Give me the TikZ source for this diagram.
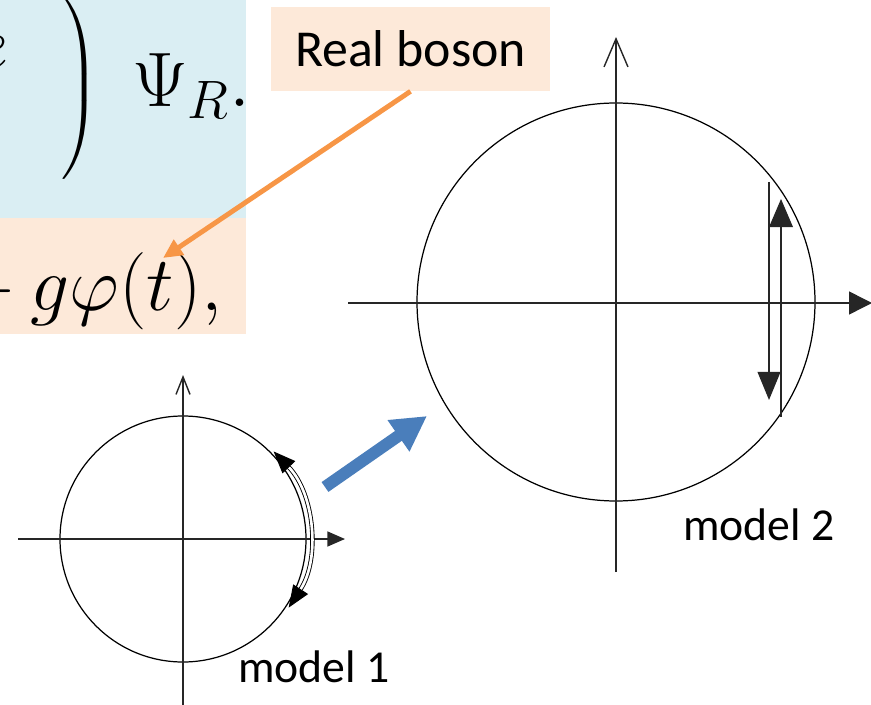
\RequirePackage{fix-cm}
\documentclass[tikz,border=0pt]{standalone}
\usepackage{amsmath}
\usepackage{fontspec}
\newfontfamily\calibri{Carlito}
\usetikzlibrary{arrows.meta,positioning}
\definecolor{eqblue}{HTML}{DAEEF3}
\definecolor{eqpeach}{HTML}{FDE9D9}
\definecolor{notearrow}{HTML}{F79646}
\definecolor{steparrow}{HTML}{4A7EBB}

\begin{document}
\begin{tikzpicture}[x=0.02cm, y=-0.02cm,
    eqbox/.style={anchor=base east, inner sep=0pt, font=\fontsize{44}{50}\selectfont},
    note/.style={fill=eqpeach, inner sep=0pt, minimum width=5.58cm, minimum height=1.68cm, font=\calibri\fontsize{29.5}{34}\selectfont},
    modellabel/.style={anchor=base west, inner sep=0pt, font=\calibri\fontsize{26}{30}\selectfont},
    axis/.style={line width=0.8pt, black!85},
    ring/.style={line width=0.7pt}
]
    \useasboundingbox (0,0) rectangle (871,705);
    \clip (0,0) rectangle (871,705);

    % equation boxes
    \fill[eqblue] (0,0) rectangle (246,218);
    \fill[eqpeach] (0,218) rectangle (246,334);
    \node[eqbox] (efrag) at (9,70) {$e$};
    \node[eqbox] (psi) at (251,107) {$\left.\vrule height 64pt depth 42pt width 0pt\right)\mskip4.5mu\Psi_R.$};
    \node[eqbox] (coupling) at (223,311) {${}+g\varphi(t),$};
    \coordinate (ttop) at (163,258);

    % label and pointer
    \node[note] (boson) at (410.5,49) {Real boson};
    \draw[notearrow, line width=2.8pt, -{Triangle[length=11pt,width=10pt]}] (boson.south) -- (ttop);

    % model 1
    \coordinate (o1) at (183,539);
    \draw[ring] (o1) circle (123);
    \draw[axis, -{Triangle[length=10pt,width=8.5pt]}] (18,539) -- (345,539);
    \draw[axis, -{Straight Barb[length=10pt,width=8pt]}] (183,705) -- (183,375);
    \draw[line width=0.5pt, double, double distance=1.5pt, {Triangle[length=12.5pt,width=10pt]}-{Triangle[length=12.5pt,width=10pt]}]
        (o1) ++(-44:126) arc[start angle=-44, end angle=33, radius=126];
    \node[modellabel] (m1) at (238,682) {model 1};

    % step to model 2
    \coordinate (from1) at (325,487);
    \coordinate (to2) at (427,416);
    \draw[steparrow, line width=6.8pt, -{Triangle[length=19.8pt,width=20.4pt]}] (from1) -- (to2);

    % model 2
    \coordinate (o2) at (616,302);
    \draw[ring] (o2) circle (199);
    \draw[axis, -{Triangle[length=13pt,width=13pt]}] (348,303) -- (872,303);
    \draw[axis, -{Straight Barb[length=16pt,width=13.6pt]}] (616,572) -- (616,37);
    \draw[axis, -{Triangle[length=16pt,width=13pt]}] (769,182) -- (769,400);
    \draw[axis, -{Triangle[length=16pt,width=13.5pt]}] (781,417) -- (781,199);
    \node[modellabel] (m2) at (683,540) {model 2};
\end{tikzpicture}
\end{document}
